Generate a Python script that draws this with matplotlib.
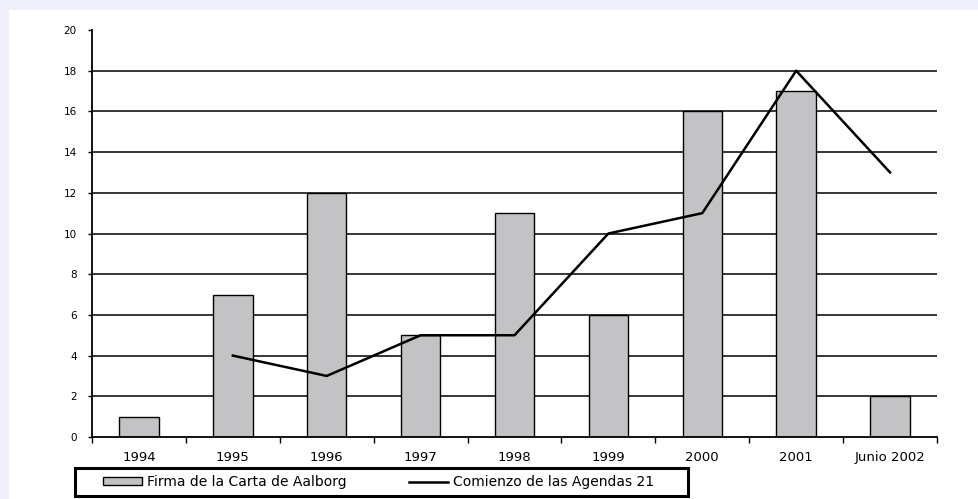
import matplotlib
matplotlib.use("Agg")
import matplotlib.pyplot as plt
from matplotlib.patches import Rectangle
from matplotlib.ticker import FixedLocator
import numpy as np

categories = ["1994", "1995", "1996", "1997", "1998", "1999", "2000", "2001", "Junio 2002"]
firma_aalborg = [1, 7, 12, 5, 11, 6, 16, 17, 2]
agendas_21 = [None, 4, 3, 5, 5, 10, 11, 18, 13]
y_ticks = [0, 2, 4, 6, 8, 10, 12, 14, 16, 18, 20]

plt.rcParams["font.family"] = ["DejaVu Sans"]

W, H = 979, 499
fig = plt.figure(figsize=(W / 100, H / 100), dpi=100)
fig.patch.set_facecolor("#eff0f9")
# white card behind everything
card = Rectangle((9 / W, 0), 1, 1 - 10 / H, transform=fig.transFigure,
                 facecolor="white", edgecolor="none", zorder=-10)
fig.add_artist(card)

ax = fig.add_axes([92 / W, 1 - 437 / H, (937 - 92) / W, (437 - 30) / H])
ax.set_facecolor("white")

x = np.arange(len(categories))
bars = ax.bar(x, firma_aalborg, width=0.42, color="#c3c3c6", edgecolor="black", linewidth=1.0,
              zorder=2, label="Firma de la Carta de Aalborg")
lx = [i for i, v in zip(x, agendas_21) if v is not None]
ly = [v for v in agendas_21 if v is not None]
line, = ax.plot(lx, ly, color="black", linewidth=1.8, zorder=3, label="Comienzo de las Agendas 21")

ax.set_xlim(-0.5, len(categories) - 0.5)
ax.set_ylim(0, 20)
ax.set_yticks(y_ticks)
ax.set_yticklabels([str(t) for t in y_ticks], fontsize=7.5)
for t in y_ticks[1:-1]:
    ax.axhline(t, color="black", linewidth=1.1, zorder=1)

ax.set_xticks(x)
ax.set_xticklabels(categories, fontsize=9.5)
ax.tick_params(axis="x", which="major", length=0, pad=10)
ax.xaxis.set_minor_locator(FixedLocator(np.arange(-0.5, len(categories), 1.0)))
ax.tick_params(axis="x", which="minor", length=4, width=1.0, direction="out")
ax.tick_params(axis="y", length=3, width=1.0, direction="out", pad=8)

for s in ["top", "right"]:
    ax.spines[s].set_visible(False)
for s in ["left", "bottom"]:
    ax.spines[s].set_linewidth(1.3)

# legend box drawn separately so its size is independent of the entries
box = Rectangle((75 / W, 1 - 496 / H), (688 - 75) / W, (496 - 468) / H, transform=fig.transFigure,
                facecolor="white", edgecolor="black", linewidth=2.2, zorder=5)
fig.add_artist(box)
leg = fig.legend(handles=[bars, line], labels=[bars.get_label(), line.get_label()],
                 loc="center left", bbox_to_anchor=(103 / W, 1 - 482 / H),
                 ncol=2, fontsize=10, frameon=False,
                 handlelength=2.8, handleheight=0.5, handletextpad=0.35, borderaxespad=0,
                 columnspacing=4.5, borderpad=0)
leg.set_zorder(6)

fig.savefig("out.png", dpi=100, facecolor=fig.get_facecolor())
